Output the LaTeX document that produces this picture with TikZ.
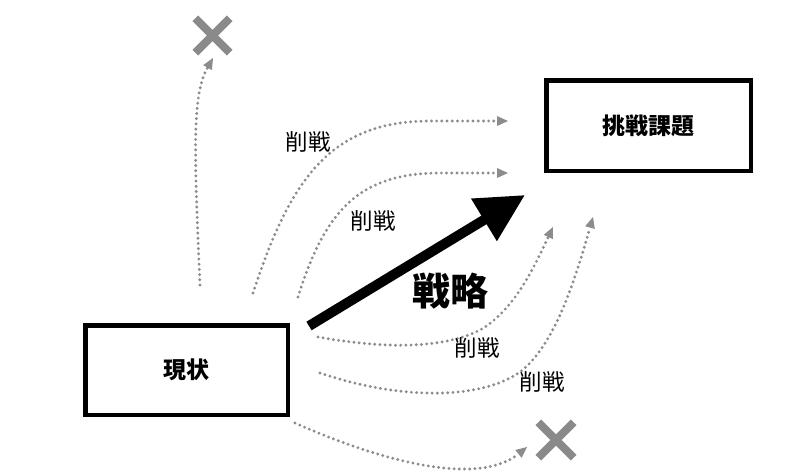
\documentclass[tikz,border=0pt]{standalone}
\usepackage{fontspec}
\newfontfamily\jp{Noto Sans CJK JP}
\usetikzlibrary{arrows.meta}
\definecolor{dotgray}{HTML}{8C8C8C}
\definecolor{xgray}{HTML}{8A8A8A}
\tikzset{
  box/.style={draw=black, line width=4.5pt, inner sep=0pt, fill=white, font=\jp\bfseries\fontsize{23}{23}\selectfont},
  dotarrow/.style={draw=dotgray, line width=3.2pt, line cap=round, dash pattern=on 0pt off 5.2pt,
    -{Triangle[length=11pt,width=10pt,fill=dotgray,line width=0pt]}},
  cutlabel/.style={font=\jp\fontsize{22.5}{22.5}\selectfont, inner sep=0pt},
  xmark/.style={draw=xgray, line width=8pt},
  bigarrow/.style={draw=black, line width=10pt, -{Triangle[length=48pt,width=47pt]}}
}
\begin{document}
\begin{tikzpicture}[x=1pt, y=-1pt]
\useasboundingbox (0,0) rectangle (800,475);
\fill[white] (0,0) rectangle (800,475);

\node[box, minimum width=202.5pt, minimum height=89.5pt] (now) at (186.5,370) {現状};
\node[box, minimum width=204.5pt, minimum height=90.5pt] (goal) at (648.5,125.5) {挑戦課題};

% free ends
\coordinate (s1) at (200,285);
\coordinate (e1) at (213,58);
\coordinate (s2) at (253,293);
\coordinate (e2) at (508,121);
\coordinate (s3) at (298,297);
\coordinate (e3) at (508,173);
\coordinate (s4) at (318,337);
\coordinate (e4) at (553,227);
\coordinate (s5) at (320,373);
\coordinate (e5) at (593,217);
\coordinate (s6) at (295,423);
\coordinate (e6) at (527,447);
\coordinate (bs) at (309,326);
\coordinate (be) at (525,195);

\draw[dotarrow] (s1) .. controls (194,150) and (192,95) .. (e1);
\draw[dotarrow] (s2) .. controls (290,180) and (330,121) .. (430,121) -- (e2);
\draw[dotarrow] (s3) .. controls (325,210) and (360,173) .. (440,173) -- (e3);
\draw[dotarrow] (s4) .. controls (380,348) and (440,350) .. (480,330) .. controls (515,310) and (535,265) .. (e4);
\draw[dotarrow] (s5) .. controls (400,400) and (480,400) .. (520,372) .. controls (555,345) and (575,280) .. (e5);
\draw[dotarrow] (s6) .. controls (390,465) and (480,485) .. (e6);

\draw[bigarrow] (bs) -- (be);

\node[font=\jp\bfseries\fontsize{38}{38}\selectfont, inner sep=0pt] (strat) at (450,291) {戦略};

\node[cutlabel] (c1) at (308,142) {削戦};
\node[cutlabel] (c2) at (373,221) {削戦};
\node[cutlabel] (c3) at (477,348) {削戦};
\node[cutlabel] (c4) at (542,382) {削戦};

\node[inner sep=0pt, minimum size=34pt] (x1) at (212.5,35.5) {};
\draw[xmark] (x1.north west) -- (x1.south east) (x1.north east) -- (x1.south west);
\node[inner sep=0pt, minimum size=35pt] (x2) at (556,440) {};
\draw[xmark] (x2.north west) -- (x2.south east) (x2.north east) -- (x2.south west);
\end{tikzpicture}
\end{document}
